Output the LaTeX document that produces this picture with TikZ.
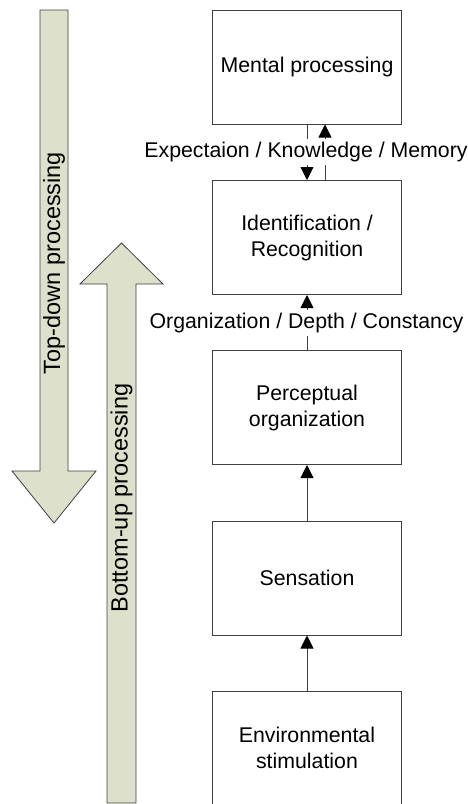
\documentclass[tikz,border=0pt]{standalone}
\usepackage{fontspec}
\setmainfont{Liberation Sans}
\usetikzlibrary{arrows.meta,calc}
\definecolor{flowfill}{RGB}{221,225,203}
\definecolor{edge}{RGB}{64,64,64}
\begin{document}
\begin{tikzpicture}[x=1pt,y=-1pt,
  stagebox/.style={draw=edge,line width=1pt,fill=white,minimum width=189pt,
    minimum height=114pt,inner sep=0pt,align=center,
    font=\fontsize{21.3}{26}\selectfont},
  conn/.style={draw=edge,line width=0.9pt,-{Triangle[width=13pt,length=13pt,color=black]}},
  levellabel/.style={fill=white,inner xsep=1pt,inner ysep=3pt,text height=15pt,
    text depth=5pt,font=\fontsize{21.3}{26}\selectfont},
  bigarrow/.style={draw=edge,line width=0.8pt,fill=flowfill},
  arrowtext/.style={rotate=90,font=\fontsize{23.5}{28}\selectfont}]
\useasboundingbox (0,0) rectangle (468,804);

% broad processing arrows
\draw[bigarrow] (40,10) -- (68,10) -- (68,471) -- (96,471) -- (54,523)
  -- (12,471) -- (40,471) -- cycle;
\node[arrowtext] (td) at (54,263) {Top-down processing};
\draw[bigarrow] (107,803) -- (107,284) -- (80,284) -- (121.5,243)
  -- (163,284) -- (136,284) -- (136,803) -- cycle;
\node[arrowtext] (bu) at (121.5,498) {Bottom-up processing};

% processing stages
\node[stagebox] (m) at (307,67) {Mental processing};
\node[stagebox] (id) at (307,237.5) {Identification /\\Recognition};
\node[stagebox] (po) at (307,407.5) {Perceptual\\organization};
\node[stagebox] (se) at (307,578) {Sensation};
\node[stagebox] (en) at (307,748) {Environmental\\stimulation};

% connectors between stages
\draw[conn] (m.south) -- (id.north);
\draw[conn] ([xshift=18pt]id.north) -- ([xshift=18pt]m.south);
\draw[conn] (po.north) -- (id.south);
\draw[conn] (se.north) -- (po.south);
\draw[conn] (en.north) -- (se.south);

% labels on the connectors
\node[levellabel,anchor=base] (l1) at (306,157) {Expectaion / Knowledge / Memory};
\node[levellabel,anchor=base] (l2) at (306.5,328) {Organization / Depth / Constancy};
\end{tikzpicture}
\end{document}
